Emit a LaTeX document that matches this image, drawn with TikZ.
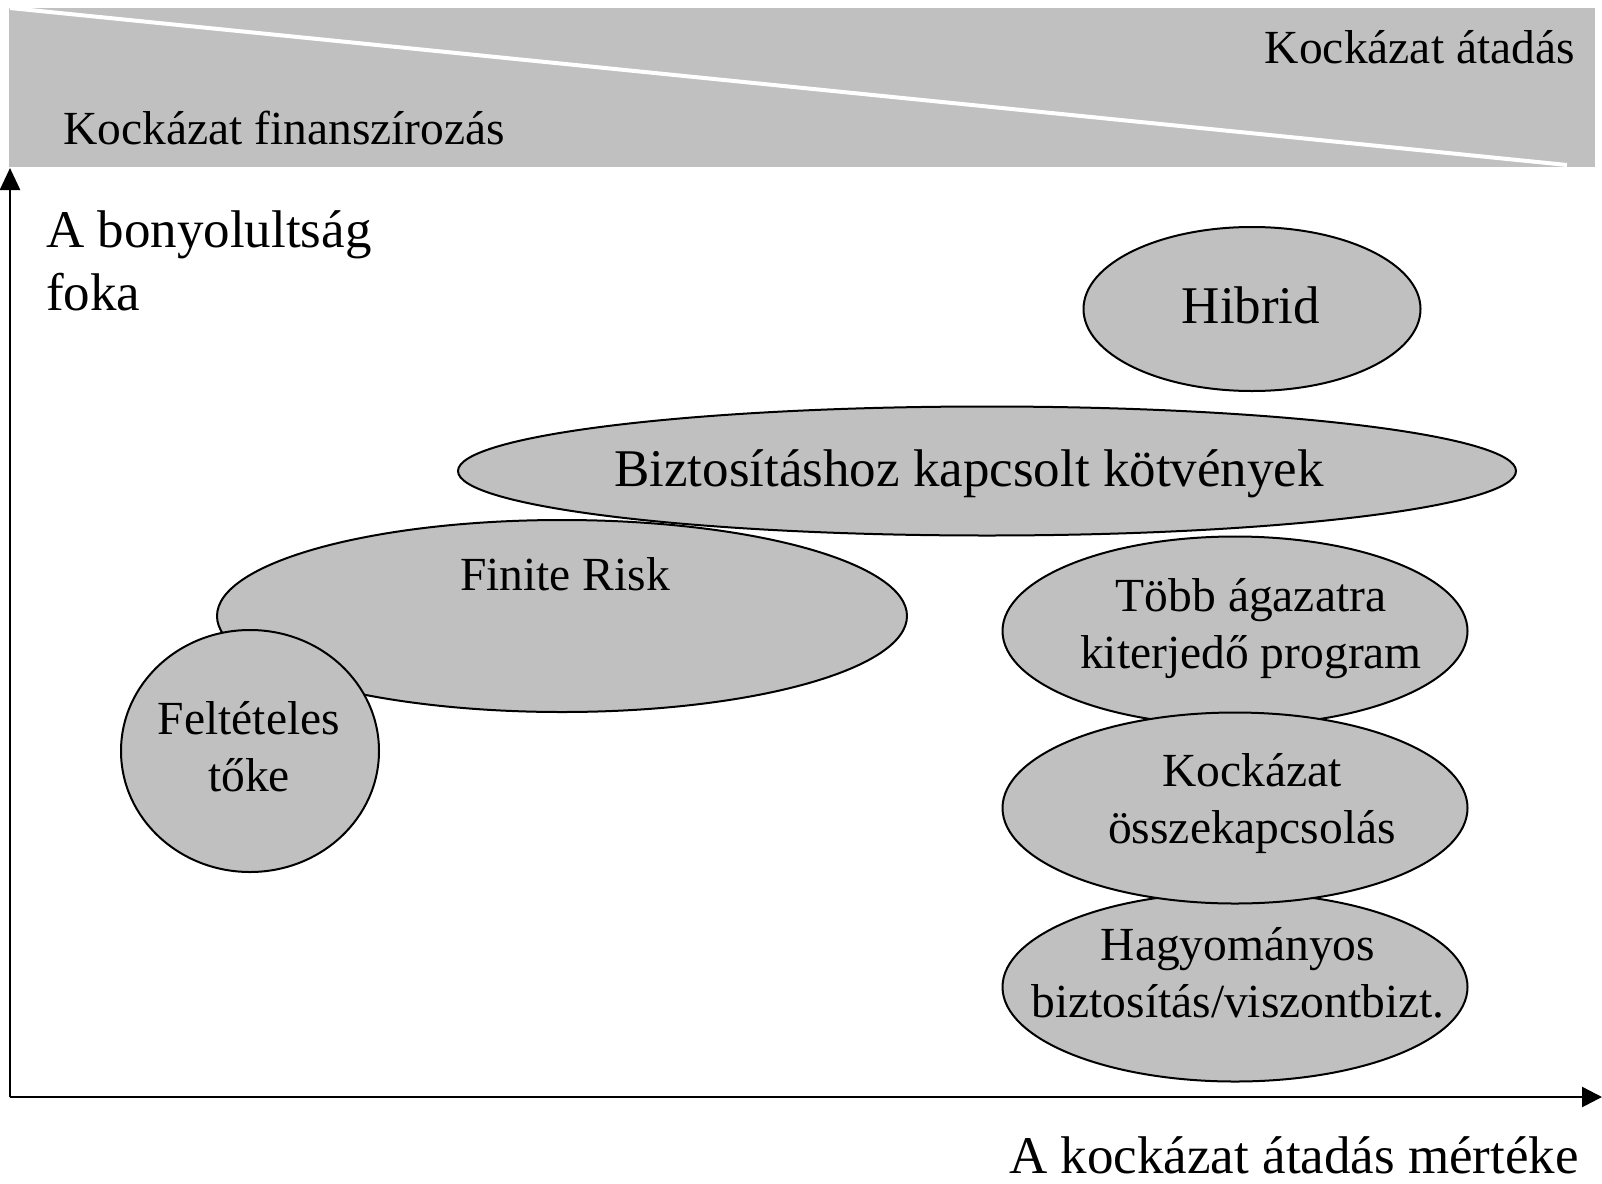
\documentclass[tikz,border=0pt]{standalone}
\usepackage{fontspec}
\setmainfont{Liberation Serif}
\usetikzlibrary{shapes.geometric,arrows.meta}
\definecolor{bubblegray}{RGB}{192,192,192}
\tikzset{
  bubble/.style={ellipse,draw=black,line width=2pt,fill=bubblegray,inner sep=0pt},
  bigtext/.style={font=\fontsize{53}{63}\selectfont,align=center,inner sep=0pt},
  smalltext/.style={font=\fontsize{47.5}{57}\selectfont,align=center,inner sep=0pt},
}
\begin{document}
\begin{tikzpicture}[x=1pt,y=-1pt]
  \def \minx {10}
  \def \maxx {1602}
  \def \miny {168}
  \def \maxy {1097}
  \useasboundingbox (0,0) rectangle (1602,1183);

  % banner on top
  \fill[bubblegray] (9,8) rectangle (1595,167);
  \draw[white,line width=4pt] (10,8) -- (1567,165);
  \node[smalltext,anchor=base west] (fin) at (63,144) {Kockázat finanszírozás};
  \node[smalltext,anchor=base east] (atad) at (1575,63) {Kockázat átadás};

  % axes
  \coordinate (origin) at (\minx,\maxy);
  \coordinate (xend) at (\maxx,\maxy);
  \coordinate (yend) at (\minx,\miny);
  \draw[line width=2.5pt,-{Triangle[length=22pt,width=20pt]}] (origin) -- (yend);
  \draw[line width=2.5pt,-{Triangle[length=20pt,width=20pt]}] (origin) -- (xend);
  \node[bigtext,anchor=base west,align=left] (ylab) at (46,310) {A bonyolultság\\foka};
  \node[bigtext,anchor=base east] (xlab) at (1579,1173) {A kockázat átadás mértéke};

  % bubbles
  \node[bubble,minimum width=337pt,minimum height=164pt] (hibrid) at (1252,309) {};
  \node[bubble,minimum width=1058pt,minimum height=129pt] (bizt) at (987,471) {};
  \node[bubble,minimum width=690pt,minimum height=192pt] (finite) at (562,616) {};
  \node[bubble,minimum width=258pt,minimum height=242pt] (feltet) at (250,751) {};
  \node[bubble,minimum width=465pt,minimum height=189pt] (tobb) at (1235,631) {};
  \node[bubble,minimum width=465pt,minimum height=189pt] (hagy) at (1235,987) {};
  \node[bubble,minimum width=465pt,minimum height=191pt] (ossze) at (1235,808) {};

  % texts (base = last line)
  \node[bigtext,anchor=base] (hibridtext) at (1251,323) {Hibrid};
  \node[bigtext,anchor=base] (bizttext) at (969,486) {Biztosításhoz kapcsolt kötvények};
  \node[smalltext,anchor=base] (finitetext) at (565,590) {Finite Risk};
  \node[smalltext,anchor=base] (feltettext) at (249,791) {Feltételes\\tőke};
  \node[smalltext,anchor=base] (tobbtext) at (1251,668) {Több ágazatra\\kiterjedő program};
  \node[smalltext,anchor=base] (osszetext) at (1252,843) {Kockázat\\összekapcsolás};
  \node[smalltext,anchor=base] (hagytext) at (1238,1017) {Hagyományos\\biztosítás/viszontbizt.};
\end{tikzpicture}
\end{document}
